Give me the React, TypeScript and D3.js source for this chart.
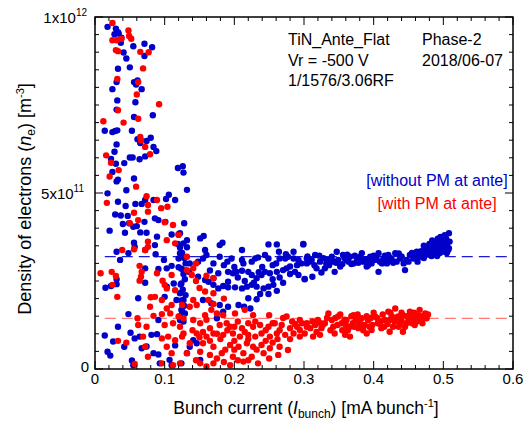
import React from "react";
import * as d3 from "d3";

// x: bunch current [mA/bunch], y: density in units of 1e11 m^-3
const bluePoints: [number, number][] = [
[0.018,9.72],[0.030,9.67],[0.033,9.57],[0.028,9.51],[0.034,9.53],[0.038,9.41],[0.037,9.27],[0.055,9.17],[0.071,9.24],[0.082,9.14],[0.041,8.99],[0.071,8.89],[0.045,8.82],[0.050,8.57],[0.033,8.53],[0.031,8.15],[0.061,8.20],[0.056,8.15],[0.059,8.08],[0.025,7.95],[0.067,7.95],[0.032,7.63],[0.058,7.58],[0.031,7.37],[0.083,7.21],[0.056,7.16],[0.014,6.77],[0.025,6.73],[0.029,6.76],[0.032,6.78],[0.053,6.77],[0.080,6.57],[0.061,6.53],[0.074,6.48],[0.065,6.42],[0.031,6.38],[0.084,6.31],[0.088,6.19],[0.028,6.17],[0.072,6.04],[0.050,6.01],[0.054,6.01],[0.064,5.96],[0.023,5.97],[0.030,5.83],[0.042,5.85],[0.025,5.60],[0.119,5.71],[0.126,5.76],[0.127,5.58],[0.033,5.38],[0.031,5.33],[0.056,5.41],[0.045,5.08],[0.018,4.99],[0.106,4.95],[0.132,5.09],[0.102,4.83],[0.115,4.80],
[0.033,4.75],[0.044,4.63],[0.058,4.69],[0.067,4.69],[0.072,4.80],[0.084,4.80],[0.029,4.39],[0.037,4.36],[0.047,4.35],[0.040,4.12],[0.049,4.14],[0.055,4.04],[0.060,4.06],[0.071,4.18],[0.086,4.28],[0.091,4.23],[0.101,4.18],[0.021,3.93],[0.043,3.87],[0.065,3.88],[0.074,3.87],[0.089,3.76],[0.110,3.82],[0.120,3.83],[0.056,3.59],[0.057,3.47],[0.086,3.52],[0.119,3.55],[0.031,3.33],[0.048,3.29],[0.072,3.38],[0.087,3.26],[0.099,3.10],[0.120,3.14],[0.036,3.10],[0.072,2.86],[0.091,2.84],[0.103,2.86],[0.110,2.93],[0.120,2.89],[0.015,2.31],[0.031,2.55],[0.031,2.41],[0.023,2.36],[0.072,2.45],[0.103,2.34],[0.113,2.43],[0.062,2.01],[0.100,2.05],[0.117,1.96],[0.048,1.56],[0.033,1.20],[0.091,1.39],[0.014,0.95],[0.051,1.03],[0.064,0.92],[0.081,0.97],[0.089,0.99],[0.057,0.87],[0.018,0.49],[0.022,0.38],[0.042,0.63],[0.074,0.64],[0.084,0.45],[0.091,0.41],[0.115,0.67],[0.053,0.24],[0.107,0.26],[0.026,0.78],[0.093,0.16],[0.055,0.11],[0.067,0.59],[0.136,0.63],[0.151,0.26],[0.110,0.11],
[0.122,3.45],[0.125,3.30],[0.128,3.15],[0.130,3.00],[0.124,2.85],[0.127,2.70],[0.129,2.55],[0.123,2.40],[0.126,2.25],[0.130,2.10],[0.124,1.95],[0.128,1.80],[0.125,1.65],[0.122,1.50],[0.127,1.35],[0.124,2.43],[0.141,0.82],[0.146,0.73],[0.132,0.45],[0.124,0.16],
[0.128,4.14],[0.122,3.86],[0.132,3.66],[0.127,3.57],[0.132,3.46],[0.122,3.29],[0.151,3.71],[0.156,3.78],[0.179,3.52],[0.183,3.59],[0.211,3.38],[0.249,3.54],[0.261,3.54],[0.264,3.33],[0.274,3.26],[0.285,3.33],[0.299,3.54],[0.158,3.38],[0.160,3.24],[0.155,3.14],[0.148,3.05],[0.136,3.00],[0.127,3.19],[0.179,3.19],[0.196,3.14],[0.211,3.10],[0.213,3.00],[0.225,3.05],[0.230,3.14],[0.234,3.17],[0.244,3.24],[0.249,3.14],[0.265,3.14],[0.273,3.14],[0.277,3.19],[0.285,3.14],[0.292,3.10],[0.304,3.14],[0.127,2.81],[0.135,2.76],[0.148,2.62],[0.158,2.53],[0.163,2.48],[0.170,2.58],[0.177,2.72],[0.191,2.76],[0.198,2.72],[0.203,2.76],[0.211,2.79],[0.220,2.76],[0.225,2.67],[0.232,2.58],[0.239,2.67],[0.244,2.76],[0.251,2.72],[0.261,2.76],[0.270,2.81],[0.275,2.86],[0.280,2.91],[0.287,2.76],[0.292,2.67],[0.301,2.56],[0.170,2.39],[0.177,2.29],[0.184,2.36],[0.191,2.48],[0.191,2.32],[0.201,2.32],[0.211,2.29],[0.218,2.34],[0.225,2.39],[0.232,2.34],[0.242,2.29],[0.249,2.34],[0.256,2.39],[0.237,2.13],[0.249,2.13],[0.261,2.22],[0.220,2.01],[0.232,1.98],[0.155,1.96],[0.167,1.87],[0.179,1.82],[0.191,1.77],[0.206,1.82],[0.214,1.77],[0.223,1.72],[0.184,1.63],[0.175,1.44],[0.122,2.15],[0.127,1.96],[0.124,1.68],[0.129,1.58],[0.122,1.39],
[0.205,2.60],[0.215,2.50],[0.228,2.45],[0.235,2.75],[0.255,2.55],[0.265,2.60],[0.270,2.45],[0.280,2.70],[0.290,2.95],[0.296,3.00],[0.255,2.95],[0.240,2.90],[0.260,3.00],[0.200,2.90],[0.185,2.95],[0.190,3.05],[0.170,3.00],[0.165,2.80],
[0.299,3.55],[0.304,3.00],[0.301,2.55],[0.312,2.62],[0.316,3.24],[0.311,3.10],[0.323,3.05],[0.325,2.74],[0.318,2.86],[0.332,3.00],[0.330,2.86],[0.340,3.19],[0.342,3.05],[0.347,3.33],[0.349,3.10],[0.352,2.91],[0.344,2.76],[0.356,3.24],[0.361,3.10],[0.366,3.19],[0.371,3.00],[0.376,3.10],[0.383,3.29],[0.385,3.05],[0.390,2.91],[0.395,3.19],[0.397,3.00],[0.402,3.10],[0.407,3.29],[0.409,3.05],[0.407,2.76],[0.414,3.14],[0.419,3.00],[0.421,3.24],[0.426,3.10],[0.431,3.29],[0.433,3.05],[0.438,3.14],[0.445,2.81],[0.447,3.10],[0.452,3.24],[0.457,3.14],[0.462,3.33],[0.466,3.19],[0.471,3.29],[0.476,3.33],[0.481,3.29],[0.483,3.43],[0.485,3.52],[0.488,3.33],[0.490,3.57],[0.493,3.43],[0.495,3.29],[0.497,3.62],[0.500,3.47],[0.502,3.33],[0.504,3.71],[0.505,3.52],[0.507,3.38],[0.508,3.86],[0.509,3.62],[0.508,3.43],[0.505,3.29],[0.491,3.21],[0.483,3.21],
[0.305,3.20],[0.315,2.95],[0.328,3.15],[0.336,2.95],[0.355,2.98],[0.362,3.25],[0.368,2.98],[0.380,3.18],[0.392,2.95],[0.400,3.22],[0.412,3.00],[0.425,3.15],[0.436,3.28],[0.450,3.05],[0.460,3.22],[0.472,3.15],[0.478,3.45],[0.486,3.60],[0.492,3.70],[0.498,3.55],[0.502,3.80],[0.494,3.40],[0.480,3.55],[0.487,3.25],
[0.308,3.05],[0.322,3.22],[0.334,3.10],[0.346,3.02],[0.358,3.15],[0.364,3.05],[0.373,3.22],[0.378,3.02],[0.388,3.12],[0.394,3.05],[0.404,3.18],[0.416,3.22],[0.418,3.08],[0.428,3.02],[0.440,3.20],[0.443,3.00],[0.455,3.30],[0.463,3.05],[0.468,3.35],[0.474,3.40],[0.478,3.25],[0.484,3.65],[0.489,3.48],[0.496,3.75],[0.500,3.65],[0.506,3.60],[0.503,3.45],[0.499,3.35],[0.482,3.35],[0.472,3.50]
];

const redPoints: [number, number][] = [
[0.025,9.83],[0.048,9.62],[0.049,9.46],[0.052,9.38],[0.025,9.34],[0.031,9.34],[0.038,9.38],[0.030,9.06],[0.033,9.03],[0.065,9.01],[0.077,9.00],[0.069,8.54],[0.032,8.24],[0.062,8.15],[0.060,7.80],[0.092,7.52],[0.033,7.35],[0.062,7.11],[0.041,7.00],[0.012,7.04],[0.065,6.59],[0.066,6.50],[0.072,6.31],[0.079,6.10],[0.016,6.07],[0.023,5.86],[0.034,5.65],[0.021,5.47],[0.059,5.18],[0.074,4.91],
[0.017,4.72],[0.089,4.80],[0.076,4.66],[0.076,4.47],[0.056,4.44],[0.095,4.57],[0.104,4.61],[0.062,4.23],[0.050,4.14],[0.100,4.17],[0.112,4.09],[0.120,3.81],[0.076,3.62],[0.103,3.66],[0.115,3.57],[0.039,3.38],[0.056,3.40],[0.072,3.38],[0.076,3.47],[0.008,2.72],[0.024,2.76],[0.030,2.64],[0.025,2.39],[0.064,2.93],[0.067,2.76],[0.066,2.62],[0.064,2.51],[0.097,2.51],[0.100,2.39],[0.103,2.29],[0.089,2.72],[0.110,2.67],[0.032,2.05],[0.080,2.04],[0.086,2.05],[0.096,1.96],[0.103,1.72],[0.110,1.82],[0.079,1.77],[0.061,1.44],[0.084,1.51],[0.096,1.56],[0.108,1.58],[0.062,1.25],[0.074,1.20],[0.100,1.25],[0.112,1.30],[0.033,0.80],[0.045,0.75],[0.069,0.92],[0.096,0.87],[0.105,0.92],[0.115,0.82],[0.072,0.63],[0.103,0.63],[0.110,0.45],[0.076,0.35],[0.057,0.14],[0.096,0.16],[0.112,0.11],[0.122,0.16],
[0.122,1.20],[0.125,1.82],[0.115,2.24],[0.120,1.49],[0.125,0.92],
[0.132,3.19],[0.145,3.00],[0.141,2.86],[0.132,2.81],[0.139,2.67],[0.170,2.58],[0.170,2.15],[0.158,2.20],[0.163,1.96],[0.141,1.96],[0.136,1.77],[0.146,1.82],[0.167,1.68],[0.158,1.53],[0.175,1.58],[0.184,1.53],[0.201,1.58],[0.215,1.68],[0.227,1.53],[0.250,1.53],[0.275,1.49],[0.127,1.44],[0.141,1.39],[0.151,1.30],[0.165,1.16],[0.179,1.25],[0.189,1.30],[0.194,1.20],[0.211,1.16],[0.220,1.30],[0.227,1.20],[0.237,1.25],[0.249,1.20],[0.258,1.30],[0.268,1.25],[0.280,1.16],[0.287,1.28],[0.294,1.11],[0.304,1.20],[0.127,1.01],[0.146,1.01],[0.160,0.92],[0.170,1.01],[0.184,0.97],[0.198,1.01],[0.208,0.92],[0.220,0.97],[0.230,0.92],[0.239,1.01],[0.251,0.92],[0.261,1.01],[0.273,0.97],[0.285,1.01],[0.294,0.92],[0.136,0.73],[0.155,0.73],[0.170,0.63],[0.194,0.68],[0.206,0.63],[0.218,0.73],[0.227,0.63],[0.239,0.68],[0.251,0.59],[0.265,0.63],[0.277,0.54],[0.132,0.45],[0.151,0.49],[0.165,0.40],[0.182,0.45],[0.198,0.35],[0.213,0.45],[0.225,0.35],[0.242,0.45],[0.263,0.40],[0.151,0.16],[0.170,0.16],[0.194,0.11],[0.213,0.21],[0.234,0.16],[0.160,0.07],
[0.155,1.05],[0.175,1.00],[0.190,1.10],[0.200,1.20],[0.205,1.35],[0.215,1.05],[0.230,1.35],[0.245,1.10],[0.255,1.30],[0.265,1.10],[0.270,1.45],[0.283,1.35],[0.290,1.20],[0.297,1.30],[0.262,0.85],[0.245,0.80],[0.220,0.85],[0.200,0.80],[0.180,0.85],[0.165,0.80],[0.150,0.90],[0.187,0.55],[0.200,0.55],[0.232,0.55],[0.255,0.75],[0.280,0.85],[0.175,0.30],[0.185,0.20],[0.205,0.25],[0.220,0.25],[0.250,0.30],[0.145,0.25],[0.140,1.10],[0.160,1.40],[0.170,1.85],[0.185,2.00],[0.150,2.30],[0.145,2.50],[0.160,2.65],
[0.294,1.39],[0.304,1.30],[0.309,1.16],[0.316,1.25],[0.320,1.39],[0.325,1.16],[0.335,1.58],[0.340,1.39],[0.342,1.20],[0.349,1.49],[0.354,1.30],[0.361,1.39],[0.366,1.20],[0.371,1.53],[0.373,1.34],[0.378,1.16],[0.383,1.44],[0.387,1.25],[0.392,1.39],[0.397,1.11],[0.402,1.49],[0.407,1.30],[0.411,1.16],[0.416,1.39],[0.421,1.63],[0.423,1.39],[0.428,1.20],[0.431,1.72],[0.435,1.49],[0.438,1.30],[0.442,1.53],[0.445,1.20],[0.450,1.39],[0.452,1.63],[0.457,1.44],[0.459,1.25],[0.464,1.53],[0.466,1.68],[0.469,1.39],[0.474,1.58],[0.476,1.44],[0.366,0.92],[0.359,0.97],[0.323,0.97],[0.313,0.92],[0.301,1.01],[0.344,1.01],[0.390,1.01],[0.442,1.06],[0.423,1.06],
[0.330,1.30],[0.345,1.45],[0.360,1.25],[0.375,1.40],[0.390,1.50],[0.405,1.45],[0.415,1.20],[0.430,1.35],[0.440,1.60],[0.455,1.30],[0.460,1.45],[0.470,1.30],[0.448,1.50],[0.433,1.45],[0.398,1.25],[0.380,1.30],[0.368,1.50],[0.355,1.10],
[0.312,1.35],[0.318,1.05],[0.327,1.25],[0.338,1.10],[0.348,1.25],[0.352,1.55],[0.363,1.10],[0.370,1.30],[0.377,1.55],[0.385,1.10],[0.394,1.20],[0.400,1.60],[0.410,1.35],[0.413,1.55],[0.420,1.28],[0.426,1.50],[0.436,1.20],[0.440,1.38],[0.447,1.30],[0.453,1.50],[0.462,1.35],[0.467,1.50],[0.472,1.45],[0.478,1.55],[0.458,1.60],[0.424,1.60],[0.406,1.30],[0.396,1.45],[0.384,1.25],[0.372,1.20],[0.358,1.40],[0.333,1.45],[0.324,1.30]
];

const xTicks = [0, 0.1, 0.2, 0.3, 0.4, 0.5, 0.6];
const xTickLabels = ["0", "0.1", "0.2", "0.3", "0.4", "0.5", "0.6"];
const blueMean = 3.19;
const redMean = 1.44;
const annotationLeft = ["TiN_Ante_Flat", "Vr = -500 V", "1/1576/3.06RF"];
const annotationRight = ["Phase-2", "2018/06-07"];

const W = 524, H = 424;
const L = 95, R = 513, T = 17, B = 369;
const FONT = "'Liberation Sans', Arial, sans-serif";
const BLUE = "#0000c8";
const RED = "#ff0000";

export default function App() {
  const x = d3.scaleLinear().domain([0, 0.6]).range([L, R]);
  const y = d3.scaleLinear().domain([0, 10]).range([B, T]);
  const xMinor = d3.range(0, 0.6001, 0.02);
  const yMinor = d3.range(0, 10.001, 0.5);
  const isMajorX = (v: number) => Math.abs(v * 10 - Math.round(v * 10)) < 1e-6;
  const isMajorY = (v: number) => Math.abs(v / 5 - Math.round(v / 5)) < 1e-6;

  return (
    <svg width={W} height={H} style={{ position: "absolute", left: 0, top: 0, background: "#fff" }} fontFamily={FONT}>
      <rect x={0} y={0} width={W} height={H} fill="#fff" />
      <line x1={x(0.014)} x2={R} y1={y(blueMean)} y2={y(blueMean)} stroke="#1a1ad8" strokeWidth={1.2} strokeDasharray="11,6" />
      <line x1={x(0.014)} x2={R} y1={y(redMean)} y2={y(redMean)} stroke="#ff7878" strokeWidth={1.2} strokeDasharray="11,6" />
      <g>
        {bluePoints.map((p, i) => (
          <circle key={"b" + i} cx={x(p[0])} cy={y(p[1])} r={3.2} fill={BLUE} />
        ))}
      </g>
      <g>
        {redPoints.map((p, i) => (
          <circle key={"r" + i} cx={x(p[0])} cy={y(p[1])} r={3.2} fill={RED} />
        ))}
      </g>
      <g stroke="#000" strokeWidth={1}>
        {xMinor.map((v, i) => {
          const len = isMajorX(v) ? 8 : 4;
          return (
            <g key={"xt" + i}>
              <line x1={x(v)} x2={x(v)} y1={B} y2={B - len} />
              <line x1={x(v)} x2={x(v)} y1={T} y2={T + len} />
            </g>
          );
        })}
        {yMinor.map((v, i) => {
          const len = isMajorY(v) ? 8 : 4;
          return (
            <g key={"yt" + i}>
              <line x1={L} x2={L + len} y1={y(v)} y2={y(v)} />
              <line x1={R} x2={R - len} y1={y(v)} y2={y(v)} />
            </g>
          );
        })}
      </g>
      <rect x={L} y={T} width={R - L} height={B - T} fill="none" stroke="#000" strokeWidth={1.5} />
      {xTicks.map((v, i) => (
        <text key={"xl" + i} x={x(v)} y={B + 15} textAnchor="middle" fontSize={15} fill="#000">
          {xTickLabels[i]}
        </text>
      ))}
      <text x={L - 6} y={B + 3} textAnchor="end" fontSize={15}>0</text>
      <text x={L - 11} y={y(5) + 6} textAnchor="end" fontSize={15}>
        5x10<tspan fontSize={10} dy={-7}>11</tspan>
      </text>
      <text x={L - 8} y={T + 6} textAnchor="end" fontSize={15}>
        1x10<tspan fontSize={10} dy={-7}>12</tspan>
      </text>
      <text x={(L + R) / 2 + 2} y={414} textAnchor="middle" fontSize={17.5}>
        Bunch current (<tspan fontStyle="italic">I</tspan>
        <tspan fontSize={12} dy={4}>bunch</tspan>
        <tspan dy={-4}>) [mA bunch</tspan>
        <tspan fontSize={11} dy={-7}>-1</tspan>
        <tspan dy={7}>]</tspan>
      </text>
      <text transform={`translate(31,${(T + B) / 2 + 6}) rotate(-90)`} textAnchor="middle" fontSize={18}>
        Density of electrons (<tspan fontStyle="italic">n</tspan>
        <tspan fontSize={12} dy={4}>e</tspan>
        <tspan dy={-4}>) [m</tspan>
        <tspan fontSize={11} dy={-7}>-3</tspan>
        <tspan dy={7}>]</tspan>
      </text>
      {annotationLeft.map((s, i) => (
        <text key={"al" + i} x={288} y={45 + i * 20.5} fontSize={16}>{s}</text>
      ))}
      {annotationRight.map((s, i) => (
        <text key={"ar" + i} x={422} y={45 + i * 20.5} fontSize={16}>{s}</text>
      ))}
      <text x={437} y={186} textAnchor="middle" fontSize={16} fill={BLUE}>[without PM at ante]</text>
      <text x={437} y={209} textAnchor="middle" fontSize={16} fill={RED}>[with PM at ante]</text>
    </svg>
  );
}
